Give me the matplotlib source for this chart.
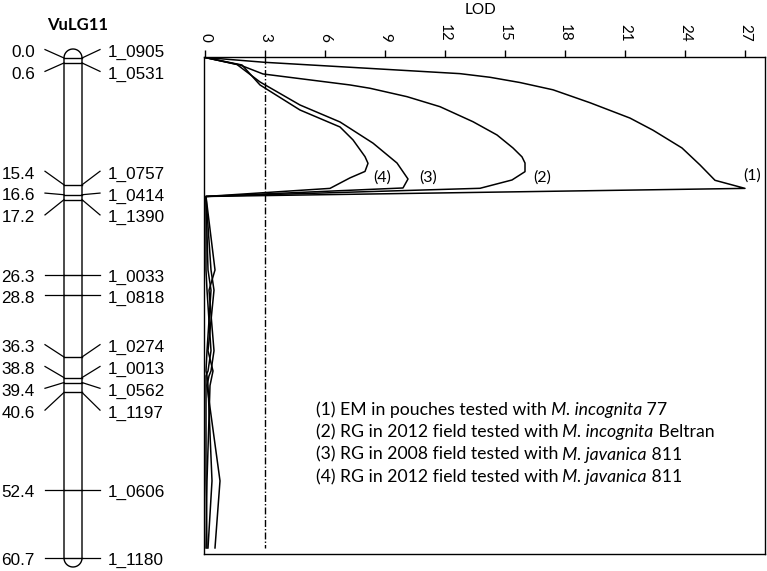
import numpy as np
import matplotlib.pyplot as plt
from matplotlib.path import Path
from matplotlib.patches import PathPatch

# grupo de ligacao VuLG11: posicoes (cM) e nomes dos marcadores
marker_pos = [0.0, 0.6, 15.4, 16.6, 17.2, 26.3, 28.8, 36.3, 38.8, 39.4, 40.6, 52.4, 60.7]
marker_names = ['1_0905', '1_0531', '1_0757', '1_0414', '1_1390', '1_0033', '1_0818',
                '1_0274', '1_0013', '1_0562', '1_1197', '1_0606', '1_1180']

# perfis LOD: trecho do pico (posicao cM, LOD) e trecho baixo nas posicoes low_pos
pos1 = [0.0, 0.6, 2.0, 2.45, 3.1, 4.0, 5.6, 7.5, 9.0, 11.2, 13.3, 15.2, 16.2]
lod1 = [0.0, 3.0, 12.75, 14.25, 15.75, 17.4, 19.25, 21.25, 22.4, 23.85, 24.75, 25.5, 27.0]
pos2 = [0.0, 0.93, 2.04, 3.4, 3.81, 4.85, 6.09, 7.95, 9.59, 11.2, 12.3, 13.06, 14.13, 15.16, 16.19]
lod2 = [0.0, 1.75, 2.9, 7.25, 8.25, 10.1, 11.75, 13.4, 14.6, 15.4, 15.85, 16.0, 16.0, 15.35, 13.75]
pos3 = [0.0, 0.87, 3.03, 5.88, 7.98, 10.6, 13.06, 15.04, 16.15]
lod3 = [0.0, 1.6, 2.75, 4.75, 6.75, 8.4, 9.6, 10.15, 9.9]
pos4 = [0.0, 0.93, 3.4, 6.5, 8.6, 10.2, 12.27, 13.1, 14.1, 14.9, 16.2]
lod4 = [0.0, 1.85, 2.75, 4.75, 6.75, 7.4, 8.0, 8.15, 8.0, 7.25, 6.25]

low_pos = [17.2, 26.3, 28.8, 36.3, 38.8, 39.4, 40.6, 52.4, 60.7]
low1 = [0.05, 0.15, 0.3, 0.1, 0.05, 0.1, 0.15, 0.35, 0.15]
low2 = [0.05, 0.5, 0.2, 0.45, 0.3, 0.2, 0.1, 0.75, 0.5]
low3 = [0.05, 0.3, 0.45, 0.15, 0.4, 0.35, 0.25, 0.1, 0.05]
low4 = [0.05, 0.05, 0.1, 0.3, 0.15, 0.05, 0.05, 0.05, 0.1]

threshold = 3
lod_ticks = [0, 3, 6, 9, 12, 15, 18, 21, 24, 27]

curve_tags = ['(1)', '(2)', '(3)', '(4)']
legend_pre = ['(1) EM in pouches tested with', '(2) RG in 2012 field tested with',
              '(3) RG in 2008 field tested with', '(4) RG in 2012 field tested with']
legend_species = ['M. incognita', 'M. incognita', 'M. javanica', 'M. javanica']
legend_post = ['77', 'Beltran', '811', '811']

txt_font = ['Lato', 'DejaVu Sans']
map_font = ['Liberation Sans', 'DejaVu Sans']

W, H = 767, 571
fig = plt.figure(figsize=(W / 100, H / 100), dpi=100)


def spread(pos, gap):
    # afasta os rotulos que ficariam sobrepostos, centrando cada grupo
    clusters = [[p] for p in pos]
    while True:
        starts = [np.mean(c) - gap * (len(c) - 1) / 2 for c in clusters]
        merged = False
        for k in range(len(clusters) - 1):
            end_k = starts[k] + gap * (len(clusters[k]) - 1)
            if starts[k + 1] - end_k < gap - 0.2:
                clusters[k] = clusters[k] + clusters.pop(k + 1)
                merged = True
                break
        if not merged:
            break
    out = []
    for s, c in zip(starts, clusters):
        out += [s + gap * j for j in range(len(c))]
    return out


# ---- mapa do cromossomo (x em pixels, y em cM) ----
pxcm = 8.237
axc = fig.add_axes([0, 0, 200 / W, 1])
axc.set_xlim(0, 200)
axc.set_ylim((H - 58) / pxcm, -58 / pxcm)
axc.axis('off')

cx, r = 73, 9
ry = r / pxcm
top, bot = marker_pos[0], marker_pos[-1]
t = np.linspace(0, np.pi, 40)
xs = np.concatenate([cx + r * np.cos(t), cx + r * np.cos(t + np.pi)])
ys = np.concatenate([top - ry * np.sin(t), bot - ry * np.sin(t + np.pi)])
verts = list(zip(xs, ys)) + [(xs[0], ys[0])]
axc.add_patch(PathPatch(Path(verts, closed=True), fill=False, lw=1.0, ec='black'))

lab_y = spread(marker_pos, 2.65)
for p, ly, name in zip(marker_pos, lab_y, marker_names):
    axc.plot([cx - r, cx + r], [p, p], color='black', lw=1.0)
    axc.plot([45, cx - r], [ly, p], color='black', lw=0.9)
    axc.plot([cx + r, 100], [p, ly], color='black', lw=0.9)
    axc.text(35, ly + 0.35, f'{p:.1f}', ha='right', va='center', fontsize=12.3, family=map_font)
    axc.text(108, ly + 0.35, name, ha='left', va='center', fontsize=12.3, family=map_font)

fig.text(78 / W, 1 - 25 / H, 'VuLG11', ha='center', va='center', fontsize=12,
         fontweight='bold', family=txt_font)

# ---- perfis LOD ----
ax = fig.add_axes([204 / W, 17 / H, 561 / W, 497 / H])
ax.set_xlim(-0.05, 28)
ax.set_ylim(61.45, -0.06)
ax.xaxis.tick_top()
ax.set_xticks(lod_ticks)
ax.set_xticklabels([str(v) for v in lod_ticks], rotation=-90, family=txt_font, fontsize=11)
ax.tick_params(axis='x', direction='out', length=5, width=1.0, pad=6)
ax.set_yticks([])
for s in ax.spines.values():
    s.set_linewidth(1.0)

peaks = [(pos1, lod1, low1), (pos2, lod2, low2), (pos3, lod3, low3), (pos4, lod4, low4)]
for p, l, lo in peaks:
    ax.plot(l + lo, p + low_pos, color='black', lw=1.1)

ax.vlines(threshold, 0, low_pos[-1], color='black', lw=1.0, linestyles=(0, (5, 1.5, 1, 1.5)))

tag_xy = [(27.35, 14.6), (16.85, 14.8), (11.15, 14.8), (8.85, 14.8)]
for tag, (tx, ty) in zip(curve_tags, tag_xy):
    ax.text(tx, ty, tag, ha='center', va='center', fontsize=11.5, family=txt_font)

for i, (a, b, c) in enumerate(zip(legend_pre, legend_species, legend_post)):
    y = 43.6 + i * 2.77
    t1 = ax.text(5.55, y, a, ha='left', va='center', fontsize=12.7, family=txt_font)
    t2 = ax.annotate(' ' + b, xy=(1, 0), xycoords=t1, ha='left', va='bottom',
                     fontsize=12.7, family=txt_font, style='italic')
    ax.annotate(' ' + c, xy=(1, 0), xycoords=t2, ha='left', va='bottom',
                fontsize=12.7, family=txt_font)

fig.text(480 / W, 1 - 10.5 / H, 'LOD', ha='center', va='center', fontsize=11, family=txt_font)

fig.savefig('out.png', dpi=100)
